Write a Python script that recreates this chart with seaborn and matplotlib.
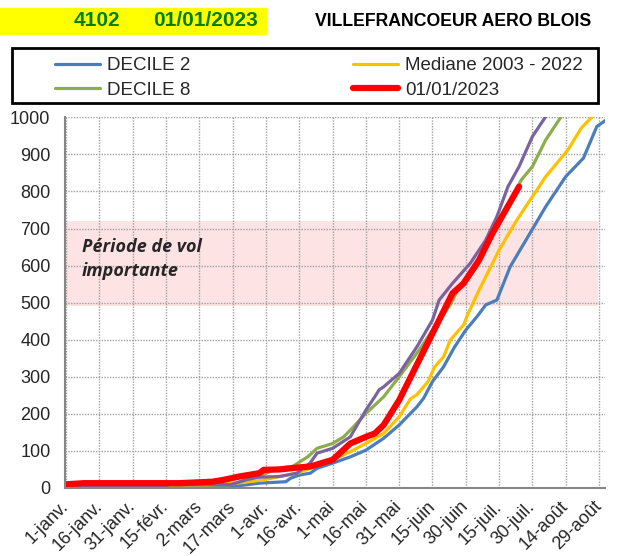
import matplotlib
matplotlib.use('agg')
import matplotlib.pyplot as plt
from matplotlib.patches import Rectangle
from matplotlib.transforms import ScaledTranslation
import seaborn as sns
import pandas as pd

# x axis: day number from 1 January
tickDays = list(range(0, 241, 15))
tickLabels = ['1-janv.', '16-janv.', '31-janv.', '15-févr.', '2-mars', '17-mars',
              '1-avr.', '16-avr.', '1-mai', '16-mai', '31-mai', '15-juin',
              '30-juin', '15-juil.', '30-juil.', '14-août', '29-août']
yTicks = list(range(0, 1001, 100))

# DECILE 2
d2Days = [0, 60, 75, 87, 99, 101, 105, 110, 113, 120, 128, 135, 143, 150, 158, 161,
          165, 170, 175, 180, 185, 189, 194, 200, 209, 216, 225, 233, 239, 243]
d2Vals = [0, 0, 4, 13, 17, 26, 35, 40, 53, 67, 84, 102, 134, 170, 219, 242,
          287, 327, 381, 426, 462, 494, 507, 597, 688, 759, 840, 890, 975, 992]

# Mediane 2003 - 2022
medDays = [0, 46, 77, 89, 96, 104, 110, 113, 120, 128, 135, 143, 150, 155, 158,
           163, 166, 170, 173, 179, 181, 186, 195, 203, 209, 216, 226, 232, 237]
medVals = [0, 0, 13, 22, 31, 40, 53, 62, 76, 98, 120, 147, 192, 240, 252,
           287, 327, 354, 399, 440, 470, 534, 642, 723, 777, 840, 912, 971, 1002]

# DECILE 8
d8Days = [0, 46, 74, 81, 86, 95, 102, 109, 113, 120, 125, 128, 135, 143, 150,
          159, 167, 173, 176, 185, 192, 198, 205, 210, 216, 223]
d8Vals = [3, 8, 8, 22, 29, 53, 58, 85, 107, 120, 138, 156, 201, 246, 300,
          372, 444, 494, 530, 597, 696, 750, 831, 867, 939, 1002]

# extra curve (not in legend)
purDays = [0, 45, 46, 74, 81, 86, 96, 104, 110, 113, 120, 128, 135, 139, 141, 143,
           150, 158, 165, 168, 174, 182, 189, 194, 199, 204, 210, 216]
purVals = [4, 4, 9, 9, 22, 29, 31, 40, 68, 94, 107, 138, 210, 246, 265, 273,
           309, 381, 453, 507, 552, 606, 669, 732, 813, 867, 948, 1002]

# 01/01/2023
curDays = [0, 8, 51, 66, 71, 78, 87, 89, 96, 104, 110, 115, 120, 128, 135, 139,
           143, 150, 156, 162, 168, 174, 179, 186, 192, 198, 204]
curVals = [10, 13, 13, 17, 22, 31, 40, 49, 50, 55, 58, 67, 76, 120, 138, 147,
           170, 237, 309, 381, 453, 525, 552, 615, 687, 750, 813]

bandLow, bandHigh, bandEnd = 490, 720, 239.5

W, H = 629, 556
sns.set_style('white')
plt.rcParams['font.family'] = ['Liberation Sans', 'DejaVu Sans']

fig = plt.figure(figsize=(W / 100, H / 100), dpi=100)
ax = fig.add_axes([65 / W, 1 - 488 / H, 540 / W, 370.7 / H])

ax.fill_between([-0.5, bandEnd], bandLow, bandHigh, color='#fde3e3', lw=0, zorder=0)

series = [
    (d2Days, d2Vals, '#4a7ebb', 2.3, 'DECILE 2'),
    (medDays, medVals, '#ffc000', 2.3, 'Mediane 2003 - 2022'),
    (d8Days, d8Vals, '#8cad4a', 2.3, 'DECILE 8'),
    (purDays, purVals, '#7b62a0', 2.3, '_nolegend_'),
    (curDays, curVals, '#ff0000', 4.5, '01/01/2023'),
]
handles = {}
for days, vals, col, lw, lab in series:
    df = pd.DataFrame({'day': days, 'val': vals})
    sns.lineplot(data=df, x='day', y='val', color=col, linewidth=lw, ax=ax,
                 label=lab, solid_capstyle='round', legend=False)
    handles[lab] = ax.lines[-1]

ax.set_xlim(-0.5, 242.7)
ax.set_ylim(0, 1000)
ax.set_xticks(tickDays)
ax.set_xticklabels(tickLabels, rotation=45, ha='right', va='center', rotation_mode='anchor',
                   fontsize=13)
shift = ScaledTranslation(4 / 100, 0, fig.dpi_scale_trans)
for lbl in ax.get_xticklabels():
    lbl.set_transform(lbl.get_transform() + shift)
ax.set_yticks(yTicks)
ax.tick_params(axis='y', labelsize=13, pad=5.5)
ax.tick_params(axis='x', pad=6.5)
ax.tick_params(axis='both', direction='out', length=5, color='#868686', width=1.2)
ax.set_xlabel('')
ax.set_ylabel('')
ax.grid(True, linestyle=(0, (1, 1)), color='#a0a0a0', linewidth=1)
ax.set_axisbelow(True)
for s in ['top', 'right']:
    ax.spines[s].set_visible(False)
for s in ['left', 'bottom']:
    ax.spines[s].set_color('#868686')
    ax.spines[s].set_linewidth(1.5)

ax.text(7, 617, 'Période de vol\nimportante', family='Open Sans', fontstyle='italic',
        fontweight='bold', fontsize=13, ha='left', va='center', linespacing=1.4)

# title band
fig.patches.append(Rectangle((0, 1 - 34 / H), 266 / W, 26 / H, color='#ffff00',
                             transform=fig.transFigure, zorder=0))
fig.text(74 / W, 1 - 21 / H, '4102', color='#008000', fontweight='bold', fontsize=15, va='center')
fig.text(153 / W, 1 - 21 / H, '01/01/2023', color='#008000', fontweight='bold', fontsize=15, va='center')
fig.text(315 / W, 1 - 21 / H, 'VILLEFRANCOEUR AERO BLOIS', color='black', fontweight='bold',
         fontsize=12.7, va='center')

# legend
fig.patches.append(Rectangle((12 / W, 1 - 103 / H), 586 / W, 55 / H, fill=False,
                             edgecolor='black', lw=2, transform=fig.transFigure))
order = ['DECILE 2', 'DECILE 8', 'Mediane 2003 - 2022', '01/01/2023']
fig.legend([handles[k] for k in order], order, loc='upper left',
           bbox_to_anchor=(55 / W, 1 - 106 / H, 528 / W, 49 / H), bbox_transform=fig.transFigure,
           mode='expand', ncol=2, frameon=False, borderpad=0, borderaxespad=0,
           handlelength=2.4, handletextpad=0.38, labelspacing=0.4, fontsize=13.5)

fig.savefig('out.png', dpi=100)
